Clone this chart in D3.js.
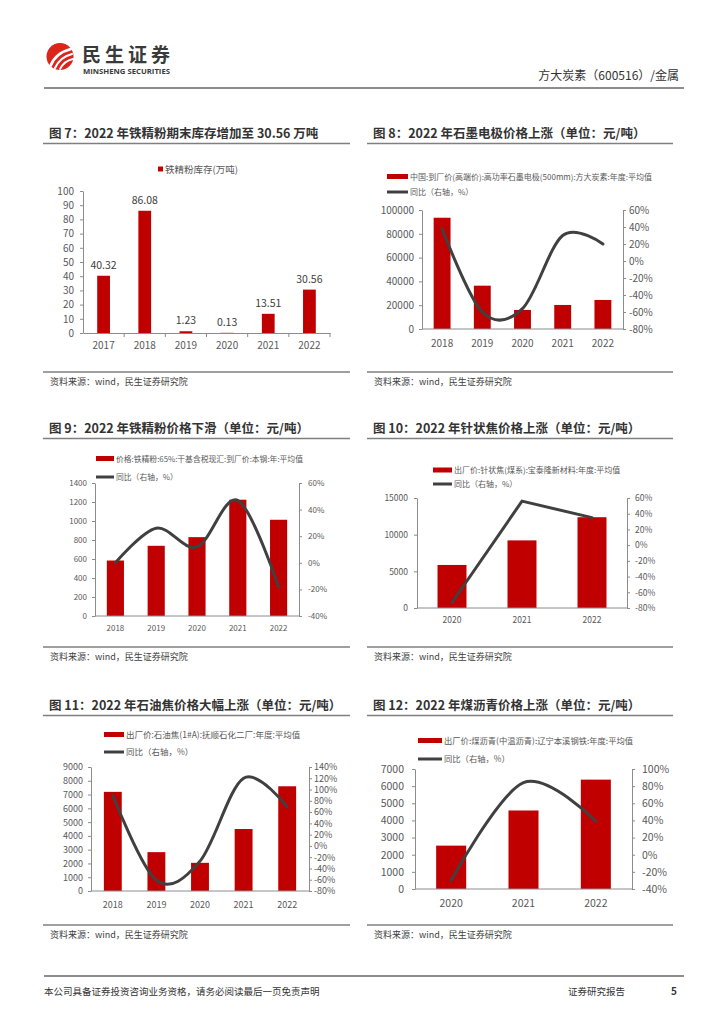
<!DOCTYPE html>
<html>
<head>
<meta charset="utf-8">
<script src="https://cdn.jsdelivr.net/npm/d3@7/dist/d3.min.js"></script>
<style>
  body { margin: 0; background: #fff; }
  text { font-family: "Noto Sans CJK SC", "Noto Sans", sans-serif; }
</style>
</head>
<body>
<div id="art"></div>
<script>
// ---- data ----
const invYears = ["2017", "2018", "2019", "2020", "2021", "2022"];
const invValues = [40.32, 86.08, 1.23, 0.13, 13.51, 30.56];

const electrodeYears = ["2018", "2019", "2020", "2021", "2022"];
const electrodePrice = [93500, 36400, 16000, 20200, 24400];
const electrodeYoy = [38, -60, -56, 30, 20];

const oreYears = ["2018", "2019", "2020", "2021", "2022"];
const orePrice = [584, 739, 830, 1224, 1013];
const oreYoy = [0, 26, 12, 47, -18];

const needleYears = ["2020", "2021", "2022"];
const needlePrice = [5870, 9220, 12380];
const needleYoy = [-73, 56, 35];

const petcokeYears = ["2018", "2019", "2020", "2021", "2022"];
const petcokePrice = [7195, 2820, 2045, 4500, 7600];
const petcokeYoy = [90, -61, -27, 120, 69];

const pitchYears = ["2020", "2021", "2022"];
const pitchPrice = [2530, 4580, 6380];
const pitchYoy = [-30, 84, 39];

config = {
  "settings": { "width": 724, "height": 1024 },
  "style": {
    "red": "#C00000",
    "line": "#404040",
    "axis": "#8c8c8c",
    "tick": "#595959",
    "title": "#333333",
    "rule": "#7f7f7f"
  }
}

function styleAxis(g, size) {
  g.select(".domain").attr("stroke", config.style.axis);
  g.selectAll(".tick line").attr("stroke", config.style.axis);
  g.selectAll(".tick text").attr("fill", config.style.tick)
    .style("font-size", size + "px")
    .style("font-family", '"Noto Sans CJK SC", sans-serif');
}

function drawCombo(svg, L, cats, bars, yoy, legendText) {
  const x = d3.scaleBand().domain(cats).range([L.x0, L.x1]);
  const yL = d3.scaleLinear().domain([0, L.leftMax]).range([L.yB, L.yT]);
  const yR = d3.scaleLinear().domain([L.rMin, L.rMax]).range([L.yB, L.yT]);
  const bw = x.bandwidth() * L.barRatio;

  svg.append("g").selectAll("rect")
    .data(cats)
    .join("rect")
    .attr("x", d => x(d) + (x.bandwidth() - bw) / 2)
    .attr("y", (d, i) => yL(bars[i]))
    .attr("width", bw)
    .attr("height", (d, i) => L.yB - yL(bars[i]))
    .attr("fill", config.style.red);

  const gl = svg.append("g")
    .attr("transform", `translate(${L.x0},0)`)
    .call(d3.axisLeft(yL)
      .tickValues(d3.range(0, L.leftMax + 1, L.leftStep))
      .tickSize(3).tickSizeOuter(0).tickPadding(L.lPad)
      .tickFormat(d3.format("d")));
  styleAxis(gl, L.font);

  const gr = svg.append("g")
    .attr("transform", `translate(${L.x1},0)`)
    .call(d3.axisRight(yR)
      .tickValues(d3.range(L.rMin, L.rMax + 1, L.rStep))
      .tickSize(3).tickSizeOuter(0).tickPadding(L.rPad)
      .tickFormat(d => d + "%"));
  styleAxis(gr, L.font);

  svg.append("line")
    .attr("x1", L.x0).attr("x2", L.x1)
    .attr("y1", L.yB).attr("y2", L.yB)
    .attr("stroke", config.style.axis);

  svg.append("g").selectAll("text")
    .data(cats)
    .join("text")
    .attr("x", d => x(d) + x.bandwidth() / 2)
    .attr("y", L.yB + L.yearDy)
    .attr("text-anchor", "middle")
    .attr("fill", config.style.tick)
    .style("font-size", L.font + "px")
    .text(d => d);

  const line = d3.line()
    .x((d, i) => x(cats[i]) + x.bandwidth() / 2)
    .y(d => yR(d))
    .curve(L.smooth ? d3.curveCardinal.tension(0) : d3.curveLinear);

  svg.append("path")
    .datum(yoy)
    .attr("d", line)
    .attr("fill", "none")
    .attr("stroke", config.style.line)
    .attr("stroke-width", 3)
    .attr("stroke-linecap", "round");

  // legend
  svg.append("rect")
    .attr("x", L.lgX).attr("y", L.lgY1 - 2.5)
    .attr("width", L.lgW).attr("height", 5)
    .attr("fill", config.style.red);
  svg.append("text")
    .attr("x", L.lgX + L.lgW + 2).attr("y", L.lgY1 + 3)
    .attr("fill", config.style.tick)
    .style("font-size", L.lgFont + "px")
    .text(legendText);
  svg.append("line")
    .attr("x1", L.lgX).attr("x2", L.lgX + L.lgW)
    .attr("y1", L.lgY2).attr("y2", L.lgY2)
    .attr("stroke", config.style.line).attr("stroke-width", 3);
  svg.append("text")
    .attr("x", L.lgX + L.lgW + 2).attr("y", L.lgY2 + 3)
    .attr("fill", config.style.tick)
    .style("font-size", L.lgFont + "px")
    .text("同比（右轴，%）");
}

function panel(svg, x0, x1, yTitle, ySource, title) {
  svg.append("text")
    .attr("x", x0 + 6).attr("y", yTitle)
    .attr("fill", config.style.title)
    .style("font-size", "12.5px").style("font-weight", "bold")
    .text(title);
  svg.append("line")
    .attr("x1", x0).attr("x2", x1)
    .attr("y1", yTitle + 6).attr("y2", yTitle + 6)
    .attr("stroke", config.style.rule).attr("stroke-width", 1.5);
  svg.append("line")
    .attr("x1", x0).attr("x2", x1)
    .attr("y1", ySource).attr("y2", ySource)
    .attr("stroke", config.style.rule).attr("stroke-width", 1.5);
  svg.append("text")
    .attr("x", x0 + 7).attr("y", ySource + 13)
    .attr("fill", "#404040")
    .style("font-size", "9px")
    .text("资料来源：wind，民生证券研究院");
}

function art() {
  const W = config.settings.width;
  const H = config.settings.height;
  const svg = d3.select("#art").append("svg")
    .attr("width", W).attr("height", H)
    .style("background", "#fff");

  // ---- header ----
  svg.append("circle").attr("cx", 60).attr("cy", 56.5).attr("r", 13.5).attr("fill", "#d9251c");
  [["M50,67 Q55,53 71,49", 2.6], ["M55,68 Q60,57 72,54", 2.2], ["M60,69 Q64,61 73,59", 1.8]]
    .forEach(p => svg.append("path").attr("d", p[0]).attr("fill", "none")
      .attr("stroke", "#fff").attr("stroke-width", p[1]).attr("stroke-linecap", "round"));
  svg.append("text").attr("x", 82).attr("y", 61.5)
    .attr("fill", "#3a3a3a").style("font-size", "19px").style("font-weight", "bold")
    .attr("textLength", 88).text("民生证券");
  svg.append("text").attr("x", 83).attr("y", 74)
    .attr("fill", "#3a3a3a").style("font-size", "6.5px").style("font-weight", "bold")
    .style("font-family", '"Open Sans", sans-serif')
    .attr("textLength", 87).attr("lengthAdjust", "spacingAndGlyphs")
    .text("MINSHENG SECURITIES");
  svg.append("text").attr("x", 679).attr("y", 80)
    .attr("text-anchor", "end").attr("fill", "#333")
    .style("font-size", "12px")
    .text("方大炭素（600516）/金属");
  svg.append("line").attr("x1", 44).attr("x2", 684).attr("y1", 88).attr("y2", 88)
    .attr("stroke", "#666").attr("stroke-width", 1.5);

  // ---- panels ----
  panel(svg, 43, 350, 137.5, 372, "图 7：2022 年铁精粉期末库存增加至 30.56 万吨");
  panel(svg, 367, 673, 137.5, 372, "图 8：2022 年石墨电极价格上涨（单位：元/吨）");
  panel(svg, 43, 350, 432.5, 647, "图 9：2022 年铁精粉价格下滑（单位：元/吨）");
  panel(svg, 367, 673, 432.5, 647, "图 10：2022 年针状焦价格上涨（单位：元/吨）");
  panel(svg, 43, 350, 709.5, 925, "图 11：2022 年石油焦价格大幅上涨（单位：元/吨）");
  panel(svg, 367, 673, 709.5, 925, "图 12：2022 年煤沥青价格上涨（单位：元/吨）");

  // ---- chart 7: inventory bars ----
  const x7 = d3.scaleBand().domain(invYears).range([83, 330]);
  const y7 = d3.scaleLinear().domain([0, 100]).range([333, 191]);
  const bw7 = x7.bandwidth() * 0.31;
  svg.append("g").selectAll("rect")
    .data(invYears)
    .join("rect")
    .attr("x", d => x7(d) + (x7.bandwidth() - bw7) / 2)
    .attr("y", (d, i) => y7(invValues[i]))
    .attr("width", bw7)
    .attr("height", (d, i) => 333 - y7(invValues[i]))
    .attr("fill", config.style.red);
  svg.append("g").selectAll("text")
    .data(invYears)
    .join("text")
    .attr("x", d => x7(d) + x7.bandwidth() / 2)
    .attr("y", (d, i) => y7(invValues[i]) - 7)
    .attr("text-anchor", "middle")
    .attr("fill", "#404040")
    .style("font-size", "10.5px")
    .text((d, i) => invValues[i].toFixed(2));
  const g7 = svg.append("g").attr("transform", "translate(83,0)")
    .call(d3.axisLeft(y7).tickValues(d3.range(0, 101, 10)).tickSize(3).tickSizeOuter(0).tickPadding(6));
  styleAxis(g7, 10);
  const gx7 = svg.append("g").attr("transform", "translate(0,333)")
    .call(d3.axisBottom(x7).tickSize(0).tickSizeOuter(0).tickPadding(9));
  styleAxis(gx7, 10);
  svg.append("g").selectAll("line")
    .data(invYears)
    .join("line")
    .attr("x1", d => x7(d) + x7.bandwidth()).attr("x2", d => x7(d) + x7.bandwidth())
    .attr("y1", 333).attr("y2", 337)
    .attr("stroke", config.style.axis);
  svg.append("rect").attr("x", 158).attr("y", 166.5).attr("width", 5).attr("height", 5)
    .attr("fill", config.style.red);
  svg.append("text").attr("x", 165).attr("y", 172.5)
    .attr("fill", config.style.tick).style("font-size", "9.5px")
    .text("铁精粉库存(万吨)");

  // ---- chart 8 ----
  drawCombo(svg, {
    x0: 422, x1: 623, yT: 210, yB: 329, leftMax: 100000, leftStep: 20000,
    rMin: -80, rMax: 60, rStep: 20, lPad: 5, rPad: 3, font: 10, yearDy: 18,
    barRatio: 0.42, smooth: true,
    lgX: 387, lgW: 21, lgY1: 176.5, lgY2: 192, lgFont: 8
  }, electrodeYears, electrodePrice, electrodeYoy,
    "中国:到厂价(高端价):高功率石墨电极(500mm):方大炭素:年度:平均值");

  // ---- chart 9 ----
  drawCombo(svg, {
    x0: 95, x1: 299, yT: 483, yB: 616, leftMax: 1400, leftStep: 200,
    rMin: -40, rMax: 60, rStep: 20, lPad: 5, rPad: 6, font: 8, yearDy: 15,
    barRatio: 0.42, smooth: true,
    lgX: 96, lgW: 18, lgY1: 458.5, lgY2: 477, lgFont: 7.8
  }, oreYears, orePrice, oreYoy,
    "价格:铁精粉:65%:干基含税现汇:到厂价:本钢:年:平均值");

  // ---- chart 10 ----
  drawCombo(svg, {
    x0: 417, x1: 627, yT: 498, yB: 608, leftMax: 15000, leftStep: 5000,
    rMin: -80, rMax: 60, rStep: 20, lPad: 6, rPad: 5, font: 8.5, yearDy: 15,
    barRatio: 0.414, smooth: false,
    lgX: 433, lgW: 19, lgY1: 470, lgY2: 484, lgFont: 8
  }, needleYears, needlePrice, needleYoy,
    "出厂价:针状焦(煤系):宝泰隆新材料:年度:平均值");

  // ---- chart 11 ----
  drawCombo(svg, {
    x0: 91, x1: 309, yT: 767, yB: 891, leftMax: 9000, leftStep: 1000,
    rMin: -80, rMax: 140, rStep: 20, lPad: 5, rPad: 2, font: 9, yearDy: 17,
    barRatio: 0.41, smooth: true,
    lgX: 104, lgW: 20, lgY1: 734.5, lgY2: 752, lgFont: 8.5
  }, petcokeYears, petcokePrice, petcokeYoy,
    "出厂价:石油焦(1#A):抚顺石化二厂:年度:平均值");

  // ---- chart 12 ----
  drawCombo(svg, {
    x0: 415, x1: 632, yT: 769, yB: 889, leftMax: 7000, leftStep: 1000,
    rMin: -40, rMax: 100, rStep: 20, lPad: 8, rPad: 7, font: 10.5, yearDy: 18,
    barRatio: 0.415, smooth: true,
    lgX: 418, lgW: 24, lgY1: 740.5, lgY2: 759, lgFont: 8.3
  }, pitchYears, pitchPrice, pitchYoy,
    "出厂价:煤沥青(中温沥青):辽宁本溪钢铁:年度:平均值");

  // ---- footer ----
  svg.append("line").attr("x1", 44).attr("x2", 684).attr("y1", 976).attr("y2", 976)
    .attr("stroke", "#666").attr("stroke-width", 1.5);
  svg.append("text").attr("x", 44).attr("y", 995)
    .attr("fill", "#333").style("font-size", "9.5px")
    .text("本公司具备证券投资咨询业务资格，请务必阅读最后一页免责声明");
  svg.append("text").attr("x", 568).attr("y", 995)
    .attr("fill", "#333").style("font-size", "9.5px")
    .text("证券研究报告");
  svg.append("text").attr("x", 677).attr("y", 995)
    .attr("text-anchor", "end")
    .attr("fill", "#333").style("font-size", "10px").style("font-weight", "bold")
    .text("5");
}

window.onload = function () {
  art();
};
</script>
</body>
</html>
